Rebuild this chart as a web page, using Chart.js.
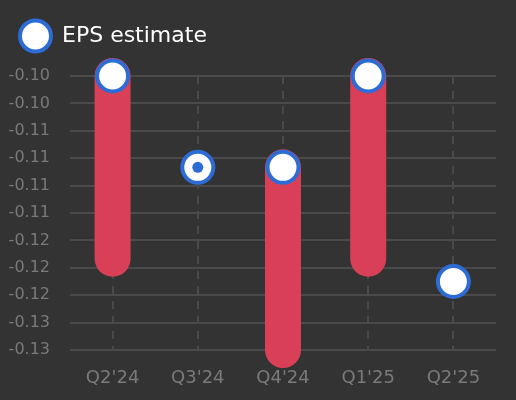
<!DOCTYPE html>
<html>
<head>
<meta charset="utf-8">
<script src="https://cdn.jsdelivr.net/npm/chart.js@4"></script>
<style>
  html, body { margin: 0; padding: 0; background: #333333; }
  #wrap { width: 516px; height: 400px; }
</style>
</head>
<body>
<div id="wrap"><canvas id="chart"></canvas></div>
<script>
const quarters = ["Q2'24", "Q3'24", "Q4'24", "Q1'25", "Q2'25"];
// low / high of the estimate range per quarter
const rangeLow = [-0.120, null, -0.130, -0.120, null];
const rangeHigh = [-0.100, null, -0.110, -0.100, null];
const epsEstimate = [-0.100, -0.110, -0.110, -0.100, -0.1225];
const epsInner = [null, -0.110, null, null, null];
const yTickLabels = ['-0.10', '-0.10', '-0.11', '-0.11', '-0.11', '-0.11', '-0.12', '-0.12', '-0.12', '-0.13', '-0.13'];

const red = '#d94057';
const blue = '#2d6bd5';
const gridColor = '#4a4a4a';
const tickColor = '#7a7a7a';

Chart.defaults.font.family = 'DejaVu Sans';

// each range becomes a short thick segment with round caps, null between them
const rangePoints = [];
quarters.forEach((q, i) => {
  if (rangeLow[i] === null) return;
  rangePoints.push({ x: q, y: rangeLow[i] }, { x: q, y: rangeHigh[i] }, { x: q, y: null });
});

// push the plot down a bit under the legend
const legendGap = {
  id: 'legendGap',
  beforeInit(chart) {
    const fit = chart.legend.fit;
    chart.legend.fit = function () {
      fit.bind(chart.legend)();
      this.height += 19;
    };
  }
};

let ctx = document.getElementById('chart').getContext('2d');
const chart = new Chart(ctx, {
  type: 'line',
  data: {
    labels: quarters,
    datasets: [
      {
        label: 'inner',
        data: epsInner,
        showLine: false,
        pointRadius: 5.5,
        pointBorderWidth: 0,
        pointBackgroundColor: blue,
        clip: false,
        order: 0
      },
      {
        label: 'EPS estimate',
        data: epsEstimate,
        showLine: false,
        pointRadius: 15.5,
        pointHoverRadius: 15.5,
        pointBorderWidth: 4,
        pointBackgroundColor: '#ffffff',
        pointBorderColor: blue,
        clip: false,
        order: 1
      },
      {
        label: 'range',
        data: rangePoints,
        borderColor: red,
        borderWidth: 36,
        borderCapStyle: 'round',
        pointRadius: 0,
        spanGaps: false,
        clip: false,
        order: 2
      }
    ]
  },
  options: {
    responsive: true,
    maintainAspectRatio: false,
    animation: false,
    layout: { padding: { left: 0, right: 20, top: 5, bottom: 0 } },
    plugins: {
      tooltip: { enabled: false },
      legend: {
        display: true,
        position: 'top',
        align: 'start',
        labels: {
          filter: item => item.text === 'EPS estimate',
          usePointStyle: true,
          pointStyle: 'circle',
          boxHeight: 22,
          pointStyleWidth: 31,
          padding: 20,
          color: '#ffffff',
          font: { size: 22 }
        }
      }
    },
    scales: {
      x: {
        type: 'category',
        offset: true,
        afterFit: scale => { scale.height = 50; },
        grid: {
          offset: false,
          color: gridColor,
          lineWidth: 2,
          drawTicks: false
        },
        border: { display: false, dash: [8, 7] },
        ticks: { color: tickColor, font: { size: 18 }, padding: 18 }
      },
      y: {
        min: -0.13,
        max: -0.10,
        afterFit: scale => { scale.width = 70; },
        grid: { color: gridColor, lineWidth: 2, drawTicks: false },
        border: { display: false },
        ticks: {
          stepSize: 0.003,
          color: tickColor,
          font: { size: 16 },
          padding: 20,
          callback: (v, i, ticks) => yTickLabels[ticks.length - 1 - i]
        }
      }
    }
  },
  plugins: [legendGap]
});
</script>
</body>
</html>
